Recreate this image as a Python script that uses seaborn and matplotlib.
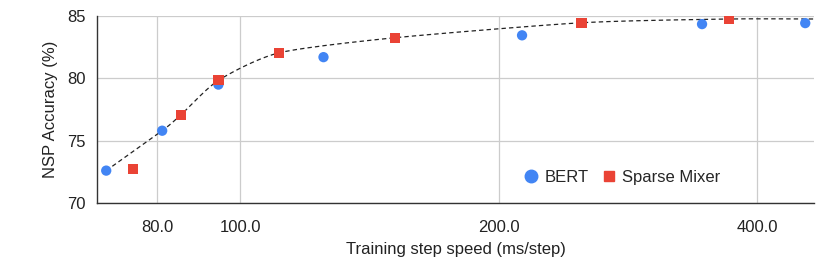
import matplotlib
matplotlib.use("Agg")
import matplotlib.pyplot as plt
from matplotlib.ticker import FixedLocator, NullLocator, FormatStrFormatter
from matplotlib.lines import Line2D
import seaborn as sns
import pandas as pd
import numpy as np

# values
bert_speed = [69.8, 81.1, 94.3, 125.0, 212.9, 345.0, 455.0]
bert_acc = [72.6, 75.8, 79.5, 81.7, 83.45, 84.35, 84.43]
sparse_speed = [75.0, 85.3, 94.3, 111.0, 151.5, 249.8, 370.9]
sparse_acc = [72.75, 77.08, 79.84, 82.05, 83.26, 84.46, 84.76]
# dashed frontier line
front_speed = [69.8, 81.1, 85.3, 94.3, 111.0, 151.5, 249.8, 370.9, 466.0]
front_acc = [72.6, 75.8, 77.08, 79.84, 82.05, 83.26, 84.46, 84.76, 84.76]
xticks = [80, 100, 200, 400]
yticks = [70, 75, 80, 85]

blue = "#4285F4"
red = "#EA4335"

df = pd.DataFrame({
    "speed": bert_speed + sparse_speed,
    "acc": bert_acc + sparse_acc,
    "model": ["BERT"] * len(bert_speed) + ["Sparse Mixer"] * len(sparse_speed),
})


def smooth(xs, ys, n=20, tension=0.35):
    # cardinal spline in log-x space, just to draw the dashed line smooth
    lx = np.log(np.array(xs, dtype=float))
    yy = np.array(ys, dtype=float)
    px = np.concatenate([[2 * lx[0] - lx[1]], lx, [2 * lx[-1] - lx[-2]]])
    py = np.concatenate([[2 * yy[0] - yy[1]], yy, [2 * yy[-1] - yy[-2]]])
    outx, outy = [], []
    t = np.linspace(0, 1, n, endpoint=False)
    h00 = 2 * t ** 3 - 3 * t ** 2 + 1
    h10 = t ** 3 - 2 * t ** 2 + t
    h01 = -2 * t ** 3 + 3 * t ** 2
    h11 = t ** 3 - t ** 2
    for i in range(1, len(px) - 2):
        for p, out in ((px, outx), (py, outy)):
            m1 = tension * (p[i + 1] - p[i - 1])
            m2 = tension * (p[i + 2] - p[i])
            out.extend(h00 * p[i] + h10 * m1 + h01 * p[i + 1] + h11 * m2)
    outx.append(lx[-1])
    outy.append(yy[-1])
    return np.exp(outx), np.array(outy)


sns.set_style("white")
plt.rcParams["font.family"] = ["Liberation Sans", "DejaVu Sans"]

fig = plt.figure(figsize=(8.3, 2.74), dpi=100)
ax = fig.add_axes([0.1169, 0.259, 0.864, 0.6826])

sx, sy = smooth(front_speed, front_acc)
ax.plot(sx, sy, color="#222222", lw=0.9, ls=(0, (3.5, 2.5)), zorder=2)

sns.scatterplot(data=df, x="speed", y="acc", hue="model", style="model",
                palette={"BERT": blue, "Sparse Mixer": red},
                markers={"BERT": "o", "Sparse Mixer": "s"},
                s=55, linewidth=0, ax=ax, zorder=3, legend=False)

ax.set_xscale("log")
ax.set_xlim(68.1, 466)
ax.set_ylim(70, 85)
ax.xaxis.set_major_locator(FixedLocator(xticks))
ax.xaxis.set_minor_locator(NullLocator())
ax.xaxis.set_major_formatter(FormatStrFormatter("%.1f"))
ax.set_yticks(yticks)
ax.grid(True, color="#cccccc", lw=0.9)
ax.set_axisbelow(True)

for s in ["top", "right"]:
    ax.spines[s].set_visible(False)
for s in ["left", "bottom"]:
    ax.spines[s].set_color("#333333")
    ax.spines[s].set_linewidth(1.0)
ax.tick_params(axis="x", direction="inout", length=8, width=1, color="#333333",
               labelsize=12, labelcolor="#222222", pad=8)
ax.tick_params(axis="y", direction="out", length=6, width=1, color="#333333",
               labelsize=12, labelcolor="#222222", pad=2)

ax.set_xlabel("Training step speed (ms/step)", fontsize=12, color="#222222", labelpad=5)
ax.set_ylabel("NSP Accuracy (%)", fontsize=12, color="#222222", labelpad=7)

handles = [
    Line2D([], [], marker="o", color=blue, ls="", markersize=9),
    Line2D([], [], marker="s", color=red, ls="", markersize=7),
]
ax.legend(handles, ["BERT", "Sparse Mixer"], ncol=2, frameon=False, fontsize=12,
          loc="center left", bbox_to_anchor=(0.573, 0.139), handletextpad=0.3,
          columnspacing=0.7, handlelength=1.0)

fig.savefig("out.png", dpi=100)
